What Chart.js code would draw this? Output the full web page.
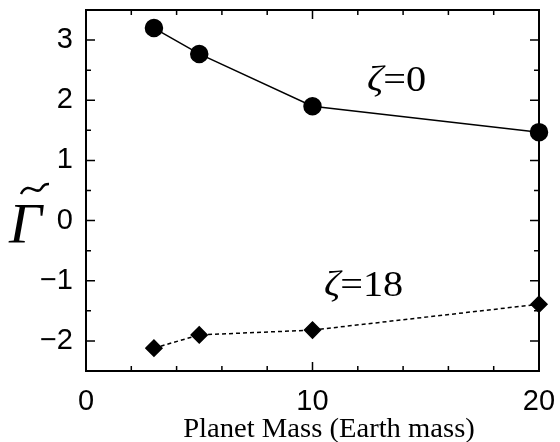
<!DOCTYPE html>
<html>
<head>
<meta charset="utf-8">
<script src="https://cdn.jsdelivr.net/npm/chart.js@4.4.1/dist/chart.umd.min.js"></script>
<style>
  html, body { margin: 0; padding: 0; background: #fff; }
  #wrap { width: 560px; height: 442px; }
</style>
</head>
<body>
<div id="wrap"><canvas id="c" width="560" height="442"></canvas></div>
<script>
// planet mass (Earth masses)
const masses = [3, 5, 10, 20];
// Gamma tilde for zeta = 0 and zeta = 18
const gammaZeta0 = [3.2, 2.77, 1.9, 1.47];
const gammaZeta18 = [-2.12, -1.9, -1.82, -1.39];

const xTicks = [0, 10, 20];
const yTicks = [-2, -1, 0, 1, 2, 3];

const toPoints = ys => masses.map((m, i) => ({ x: m, y: ys[i] }));

const noPad = scale => {
  scale.paddingTop = 0; scale.paddingBottom = 0;
  scale.paddingLeft = 0; scale.paddingRight = 0;
};

// frame, inward ticks, labels in the plot
const decor = {
  id: 'decor',
  afterDraw(chart) {
    const ctx = chart.ctx;
    const a = chart.chartArea;
    const xs = chart.scales.x;
    const ys = chart.scales.y;
    ctx.save();
    ctx.strokeStyle = '#000';
    ctx.lineWidth = 2;
    ctx.strokeRect(a.left, a.top, a.right - a.left, a.bottom - a.top);

    ctx.lineWidth = 1.5;
    ctx.beginPath();
    for (let v = 0; v <= 20; v += 2) {
      const px = xs.getPixelForValue(v);
      const len = v % 10 === 0 ? 9 : 5;
      ctx.moveTo(px, a.bottom); ctx.lineTo(px, a.bottom - len);
      ctx.moveTo(px, a.top); ctx.lineTo(px, a.top + len);
    }
    for (let v = -2.5; v <= 3.5; v += 0.5) {
      const py = ys.getPixelForValue(v);
      const len = Number.isInteger(v) ? 9 : 5;
      ctx.moveTo(a.left, py); ctx.lineTo(a.left + len, py);
      ctx.moveTo(a.right, py); ctx.lineTo(a.right - len, py);
    }
    ctx.stroke();

    ctx.fillStyle = '#000';
    ctx.textBaseline = 'alphabetic';
    ctx.textAlign = 'left';

    // series labels (slightly wide type, as in the original)
    const zeta = (txt, x, y) => {
      ctx.save();
      ctx.translate(x, y);
      ctx.scale(1.15, 1);
      ctx.font = 'italic 35px "Liberation Serif"';
      ctx.fillText('ζ', 0, 0);
      const w = ctx.measureText('ζ').width;
      ctx.font = '35px "Liberation Serif"';
      ctx.fillText(txt, w, 0);
      ctx.restore();
    };
    zeta('=0', 367, 91);
    zeta('=18', 324, 296);

    // y title: Gamma with tilde
    ctx.font = 'italic 58px "Liberation Serif"';
    ctx.fillText('Γ', 9, 243);
    ctx.lineWidth = 2.5;
    ctx.beginPath();
    ctx.moveTo(21, 194);
    ctx.bezierCurveTo(28, 180, 37, 196, 41, 189);
    ctx.bezierCurveTo(44, 184, 46, 184, 49, 184);
    ctx.stroke();

    // x title
    ctx.save();
    ctx.translate(329, 437);
    ctx.scale(1.06, 1);
    ctx.textAlign = 'center';
    ctx.font = '27px "Liberation Serif"';
    ctx.fillText('Planet Mass (Earth mass)', 0, 0);
    ctx.restore();
    ctx.restore();
  }
};

new Chart(document.getElementById('c'), {
  type: 'scatter',
  data: {
    datasets: [
      {
        label: 'ζ=0',
        data: toPoints(gammaZeta0),
        showLine: true,
        borderColor: '#000',
        borderWidth: 1.5,
        backgroundColor: '#000',
        pointStyle: 'circle',
        pointRadius: 8.5,
        pointHoverRadius: 8.5
      },
      {
        label: 'ζ=18',
        data: toPoints(gammaZeta18),
        showLine: true,
        borderColor: '#000',
        borderWidth: 1.5,
        borderDash: [4, 3],
        backgroundColor: '#000',
        pointStyle: 'rectRot',
        pointRadius: 8,
        pointHoverRadius: 8
      }
    ]
  },
  options: {
    responsive: false,
    animation: false,
    clip: false,
    layout: { padding: { top: 9, right: 21, left: 0, bottom: 0 } },
    plugins: {
      legend: { display: false },
      tooltip: { enabled: false }
    },
    scales: {
      x: {
        type: 'linear',
        min: 0,
        max: 20,
        afterFit(scale) { scale.height = 71; noPad(scale); },
        afterBuildTicks(scale) { scale.ticks = xTicks.map(v => ({ value: v })); },
        grid: { display: false, drawTicks: false },
        border: { display: false },
        ticks: {
          color: '#000',
          padding: 14,
          maxRotation: 0,
          font: { family: '"Liberation Sans", Arial, sans-serif', size: 29 }
        }
      },
      y: {
        type: 'linear',
        min: -2.5,
        max: 3.5,
        afterFit(scale) { scale.width = 86; noPad(scale); },
        afterBuildTicks(scale) { scale.ticks = yTicks.map(v => ({ value: v })); },
        grid: { display: false, drawTicks: false },
        border: { display: false },
        ticks: {
          color: '#000',
          padding: 13,
          font: { family: '"Liberation Sans", Arial, sans-serif', size: 29 },
          callback: v => v < 0 ? '\u2212' + Math.abs(v) : String(v)
        }
      }
    }
  },
  plugins: [decor]
});
</script>
</body>
</html>
